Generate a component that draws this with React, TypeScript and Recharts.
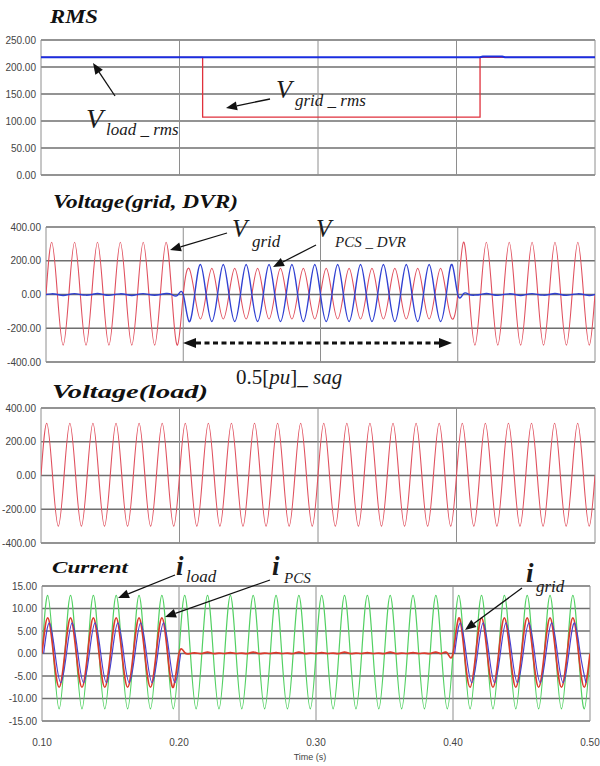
import React from "react"
import { LineChart, Line, XAxis, YAxis, CartesianGrid, ReferenceLine } from "recharts"

// time axis (s)
const xTicks = [0.1, 0.2, 0.3, 0.4, 0.5]
const T0 = 0.1
const HALF = 1 / 120 // half cycle, 60 Hz

// RMS panel (step traces)
const gridRmsT = [0.1, 0.2167, 0.2167, 0.417, 0.417, 0.5]
const gridRms = [218, 218, 107, 107, 218, 218]
const loadRmsT = [0.1, 0.417, 0.419, 0.433, 0.435, 0.5]
const loadRms = [218, 218, 219.5, 219.5, 218, 218]

// peak value of every half cycle from 0.10 s to 0.50 s (48 half cycles)
const vGridPk = [
  310, -300, 310, -300, 310, -300, 310, -300, 310, -300, 310, -300,
  155, -145, 155, -145, 155, -145, 155, -145, 155, -145, 155, -145,
  155, -145, 155, -145, 155, -145, 155, -145, 155, -145, 155, -145,
  310, -300, 310, -300, 310, -300, 310, -300, 310, -300, 310, -300,
]
const vDvrPk = [
  4, -6, 5, -4, 6, -5, 4, -6, 5, -4, 6, -5,
  -160, 178, -160, 178, -160, 178, -160, 178, -160, 178, -160, 178,
  -160, 178, -160, 178, -160, 178, -160, 178, -160, 178, -160, 178,
  5, -4, 6, -5, 4, -6, 5, -4, 6, -5, 4, -6,
]
const vLoadPk = [
  310, -300, 310, -300, 310, -300, 310, -300, 310, -300, 310, -300,
  310, -300, 310, -300, 310, -300, 310, -300, 310, -300, 310, -300,
  310, -300, 310, -300, 310, -300, 310, -300, 310, -300, 310, -300,
  310, -300, 310, -300, 310, -300, 310, -300, 310, -300, 310, -300,
]
const iLoadPk = [
  12.9, -12.3, 12.9, -12.3, 12.9, -12.3, 12.9, -12.3, 12.9, -12.3, 12.9, -12.3,
  12.9, -12.3, 12.9, -12.3, 12.9, -12.3, 12.9, -12.3, 12.9, -12.3, 12.9, -12.3,
  12.9, -12.3, 12.9, -12.3, 12.9, -12.3, 12.9, -12.3, 12.9, -12.3, 12.9, -12.3,
  12.9, -12.3, 12.9, -12.3, 12.9, -12.3, 12.9, -12.3, 12.9, -12.3, 12.9, -12.3,
]
const iGridPk = [
  7.9, -7.5, 7.9, -7.5, 7.9, -7.5, 7.9, -7.5, 7.9, -7.5, 7.9, -7.5,
  0.2, 0.1, 0.3, 0.1, 0.2, 0.1, 0.3, 0.1, 0.2, 0.1, 0.3, 0.1,
  0.2, 0.1, 0.3, 0.1, 0.2, 0.1, 0.3, 0.1, 0.2, 0.1, 0.3, 0.1,
  7.9, -7.5, 7.9, -7.5, 7.9, -7.5, 7.9, -7.5, 7.9, -7.5, 7.9, -7.5,
]
const iPcsPk = [
  6.8, -6.5, 6.8, -6.5, 6.8, -6.5, 6.8, -6.5, 6.8, -6.5, 6.8, -6.5,
  null, null, null, null, null, null, null, null, null, null, null, null,
  null, null, null, null, null, null, null, null, null, null, null, null,
  6.8, -6.5, 6.8, -6.5, 6.8, -6.5, 6.8, -6.5, 6.8, -6.5, 6.8, -6.5,
]

const rmsTicks = [0, 50, 100, 150, 200, 250]
const voltTicks = [-400, -200, 0, 200, 400]
const curTicks = [-15, -10, -5, 0, 5, 10, 15]

type Pt = { t: number; v: number | null }

const pairs = (ts: number[], vs: number[]): Pt[] => ts.map((t, i) => ({ t, v: vs[i] }))

// zero crossing + peak per half cycle, the curve is drawn by the library
function wavePts(pk: (number | null)[], lag = 0): Pt[] {
  const out: Pt[] = []
  pk.forEach((p, k) => {
    const prev = k > 0 ? pk[k - 1] : p
    out.push({ t: T0 + k * HALF + lag, v: p === null && prev === null ? null : 0 })
    out.push({ t: T0 + (k + 0.5) * HALF + lag, v: p })
  })
  out.push({ t: T0 + pk.length * HALF + lag, v: pk[pk.length - 1] === null ? null : 0 })
  return out.filter((d) => d.t <= 0.5)
}

const TICK_FONT = "'Liberation Sans Narrow', 'Liberation Sans', Arial, sans-serif"
const SERIF = "'Liberation Serif', 'Times New Roman', serif"

function Panel({
  top,
  left,
  right,
  domain,
  ticks,
  showX,
  children,
}: {
  top: number
  left: number
  right: number
  domain: [number, number]
  ticks: number[]
  showX?: boolean
  children: React.ReactNode
}) {
  return (
    <div style={{ position: "absolute", left: 0, top: top - 5 }}>
      <LineChart
        width={600}
        height={showX ? 170 : 145}
        margin={{ top: 5, right: 600 - right, bottom: showX ? 0 : 5, left: 0 }}
      >
        <CartesianGrid vertical={false} stroke="#6f6f6f" strokeWidth={1.5} />
        <XAxis
          type="number"
          dataKey="t"
          domain={[0.1, 0.5]}
          ticks={xTicks}
          interval={0}
          allowDataOverflow
          hide={!showX}
          height={30}
          axisLine={false}
          tickLine={false}
          tickSize={0}
          tickMargin={18}
          tickFormatter={(v: number) => v.toFixed(2)}
          tick={{ fontSize: 10, fill: "#444", fontFamily: TICK_FONT }}
        />
        <YAxis
          type="number"
          width={left}
          domain={domain}
          ticks={ticks}
          interval={0}
          allowDataOverflow
          axisLine={false}
          tickLine={false}
          tickSize={0}
          tickMargin={5}
          tickFormatter={(v: number) => v.toFixed(2)}
          tick={{ fontSize: 10, fill: "#444", fontFamily: TICK_FONT }}
        />
        {xTicks.map((x) => (
          <ReferenceLine key={x} x={x} stroke="#8e8e8e" strokeWidth={1} />
        ))}
        {children}
      </LineChart>
    </div>
  )
}

function Arrow({ x1, y1, x2, y2 }: { x1: number; y1: number; x2: number; y2: number }) {
  const a = Math.atan2(y2 - y1, x2 - x1)
  const L = 11
  const W = 4.5
  const bx = x2 - L * Math.cos(a)
  const by = y2 - L * Math.sin(a)
  const px = -Math.sin(a) * W
  const py = Math.cos(a) * W
  return (
    <g>
      <line x1={x1} y1={y1} x2={bx} y2={by} stroke="#111" strokeWidth={1.3} />
      <polygon points={`${x2},${y2} ${bx + px},${by + py} ${bx - px},${by - py}`} fill="#111" />
    </g>
  )
}

function Overlay() {
  const title = { fontFamily: SERIF, fontWeight: 700, fontStyle: "italic", fill: "#111" } as const
  const it = { fontFamily: SERIF, fontStyle: "italic", fill: "#1a1a1a" } as const
  return (
    <svg width={600} height={766} style={{ position: "absolute", left: 0, top: 0, pointerEvents: "none" }}>
      <text x={50} y={23} fontSize={18} textLength={48} lengthAdjust="spacingAndGlyphs" {...title}>RMS</text>
      <text x={53} y={208} fontSize={18} textLength={185} lengthAdjust="spacingAndGlyphs" {...title}>Voltage(grid, DVR)</text>
      <text x={52} y={398} fontSize={18} textLength={156} lengthAdjust="spacingAndGlyphs" {...title}>Voltage(load)</text>
      <text x={52} y={573} fontSize={17} textLength={76} lengthAdjust="spacingAndGlyphs" {...title}>Current</text>

      {/* RMS labels */}
      <text x={86} y={128} fontSize={28} {...it}>V</text>
      <text x={106} y={135} fontSize={17} {...it}>load _ rms</text>
      <Arrow x1={115} y1={96} x2={93} y2={63} />
      <text x={276} y={98} fontSize={26} {...it}>V</text>
      <text x={295} y={106} fontSize={17} {...it}>grid _ rms</text>
      <Arrow x1={270} y1={99} x2={226} y2={108} />

      {/* grid / DVR */}
      <text x={232} y={237} fontSize={25} {...it}>V</text>
      <text x={252} y={247} fontSize={17} {...it}>grid</text>
      <Arrow x1={227} y1={233} x2={170} y2={250} />
      <text x={316} y={237} fontSize={25} {...it}>V</text>
      <text x={335} y={247} fontSize={15} {...it}>PCS _ DVR</text>
      <Arrow x1={316} y1={245} x2={273} y2={267} />

      <line x1={196} y1={343} x2={440} y2={343} stroke="#111" strokeWidth={3} strokeDasharray="5 3.5" />
      <polygon points="183,343 196,338 196,348" fill="#111" />
      <polygon points="452,343 439,338 439,348" fill="#111" />
      <text x={236} y={384} fontSize={21} fontFamily={SERIF} fill="#1a1a1a">
        0.5[<tspan fontStyle="italic">pu</tspan>]_ <tspan fontStyle="italic">sag</tspan>
      </text>

      {/* currents */}
      <text x={176} y={575} fontSize={27} fontWeight={700} {...it}>i</text>
      <text x={186} y={582} fontSize={17} {...it}>load</text>
      <Arrow x1={175} y1={575} x2={118} y2={598} />
      <text x={272} y={575} fontSize={27} fontWeight={700} {...it}>i</text>
      <text x={284} y={583} fontSize={15} {...it}>PCS</text>
      <Arrow x1={270} y1={580} x2={165} y2={617} />
      <text x={526} y={582} fontSize={27} fontWeight={700} {...it}>i</text>
      <text x={536} y={592} fontSize={17} {...it}>grid</text>
      <Arrow x1={522} y1={588} x2={465} y2={630} />

      <text x={310} y={760} fontSize={9} textAnchor="middle" fontFamily={TICK_FONT} fill="#444">Time (s)</text>
    </svg>
  )
}

export default function App() {
  return (
    <div style={{ position: "absolute", left: 0, top: 0, width: 600, height: 766, background: "#fff", overflow: "hidden" }}>
      <Panel top={40} left={41} right={595} domain={[0, 250]} ticks={rmsTicks}>
        <Line data={pairs(gridRmsT, gridRms)} dataKey="v" type="linear" stroke="#e0303c" strokeWidth={1.3} dot={false} isAnimationActive={false} />
        <Line data={pairs(loadRmsT, loadRms)} dataKey="v" type="linear" stroke="#1a2ee0" strokeWidth={2} dot={false} isAnimationActive={false} />
      </Panel>
      <Panel top={227} left={46} right={595} domain={[-400, 400]} ticks={voltTicks}>
        <Line data={wavePts(vGridPk)} dataKey="v" type="natural" stroke="#e0505e" strokeWidth={1.1} dot={false} isAnimationActive={false} />
        <Line data={wavePts(vDvrPk)} dataKey="v" type="natural" stroke="#2f40d2" strokeWidth={1.4} dot={false} isAnimationActive={false} />
      </Panel>
      <Panel top={408} left={41} right={595} domain={[-400, 400]} ticks={voltTicks}>
        <Line data={wavePts(vLoadPk)} dataKey="v" type="natural" stroke="#e0505e" strokeWidth={1.1} dot={false} isAnimationActive={false} />
      </Panel>
      <Panel top={586} left={42} right={590} domain={[-15, 15]} ticks={curTicks} showX>
        <Line data={wavePts(iLoadPk)} dataKey="v" type="natural" stroke="#52d062" strokeWidth={1.2} dot={false} isAnimationActive={false} />
        <Line data={wavePts(iGridPk)} dataKey="v" type="natural" stroke="#dc3a2c" strokeWidth={1.7} dot={false} isAnimationActive={false} />
        <Line data={wavePts(iPcsPk, 0.0012)} dataKey="v" type="natural" stroke="#4a3fd0" strokeWidth={1.2} dot={false} isAnimationActive={false} connectNulls={false} />
      </Panel>
      <Overlay />
    </div>
  )
}
